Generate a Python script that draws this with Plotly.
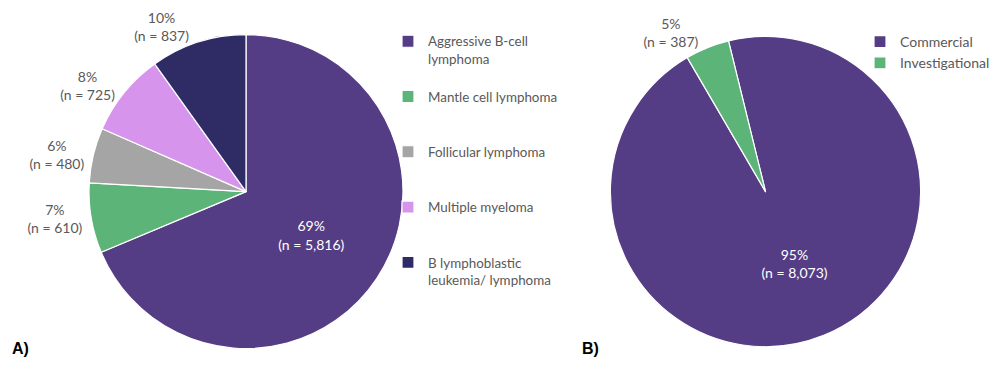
import plotly.graph_objects as go

# ---- data ----
cat_a = ["Aggressive B-cell lymphoma", "Mantle cell lymphoma", "Follicular lymphoma",
         "Multiple myeloma", "B lymphoblastic leukemia/ lymphoma"]
n_a = [5816, 610, 480, 725, 837]
pct_a = ["69%", "7%", "6%", "8%", "10%"]

cat_b = ["Commercial", "Investigational"]
n_b = [8073, 387]
pct_b = ["95%", "5%"]

# ---- styling ----
colors_a = ["#553d85", "#5cb479", "#a5a5a5", "#d694ec", "#2f2c65"]
colors_b = ["#553d85", "#5cb479"]
FONT = "Lato"
TXT = "#595959"

# legend names with line breaks / padding for spacing
legend_names_a = [
    "Aggressive B-cell<br>lymphoma<br> ",
    "Mantle cell lymphoma<br> <br> ",
    "Follicular lymphoma<br> <br> ",
    "Multiple myeloma<br> <br> ",
    "B lymphoblastic<br>leukemia/ lymphoma",
]

def texts(pcts, ns):
    return [f"{p}<br>(n = {n:,})" for p, n in zip(pcts, ns)]

fig = go.Figure()

fig.add_trace(go.Pie(
    labels=legend_names_a, values=n_a, text=texts(pct_a, n_a), textinfo="text",
    sort=False, direction="clockwise", rotation=0,
    marker=dict(colors=colors_a, line=dict(color="white", width=1.2)),
    textposition=["inside", "outside", "outside", "outside", "outside"],
    insidetextorientation="horizontal",
    insidetextfont=dict(color="white", size=14, family=FONT),
    outsidetextfont=dict(color=TXT, size=14, family=FONT),
    domain=dict(x=[0.089, 0.403], y=[0.063, 0.907]),
    legend="legend", hoverinfo="label+value",
))

fig.add_trace(go.Pie(
    labels=cat_b, values=n_b, text=texts(pct_b, n_b), textinfo="text",
    sort=False, direction="clockwise", rotation=-13.8,
    marker=dict(colors=colors_b, line=dict(color="white", width=1.2)),
    textposition=["inside", "outside"],
    insidetextorientation="horizontal",
    insidetextfont=dict(color="white", size=14, family=FONT),
    outsidetextfont=dict(color=TXT, size=14, family=FONT),
    domain=dict(x=[0.610, 0.921], y=[0.068, 0.902]),
    legend="legend2", hoverinfo="label+value",
))

fig.update_layout(
    width=1000, height=372,
    margin=dict(l=0, r=0, t=0, b=0, autoexpand=False),
    paper_bgcolor="white", plot_bgcolor="white",
    font=dict(family=FONT, color=TXT, size=13),
    legend=dict(x=0.388, y=0.93, xanchor="left", yanchor="top", valign="top",
                bgcolor="rgba(0,0,0,0)",
                font=dict(size=13.4, color=TXT, family=FONT), itemclick=False),
    legend2=dict(x=0.860, y=0.93, xanchor="left", yanchor="top",
                 bgcolor="rgba(0,0,0,0)",
                 font=dict(size=14, color=TXT, family=FONT), itemclick=False),
    annotations=[
        dict(text="<b>A)</b>", x=0.010, y=0.064, xref="paper", yref="paper",
             xanchor="left", yanchor="middle", showarrow=False,
             font=dict(size=16, color="black", family="Liberation Sans")),
        dict(text="<b>B)</b>", x=0.580, y=0.064, xref="paper", yref="paper",
             xanchor="left", yanchor="middle", showarrow=False,
             font=dict(size=16, color="black", family="Liberation Sans")),
    ],
)

fig.write_html("out.html", config={"displayModeBar": False},
               post_script="document.body.style.margin='0';")
